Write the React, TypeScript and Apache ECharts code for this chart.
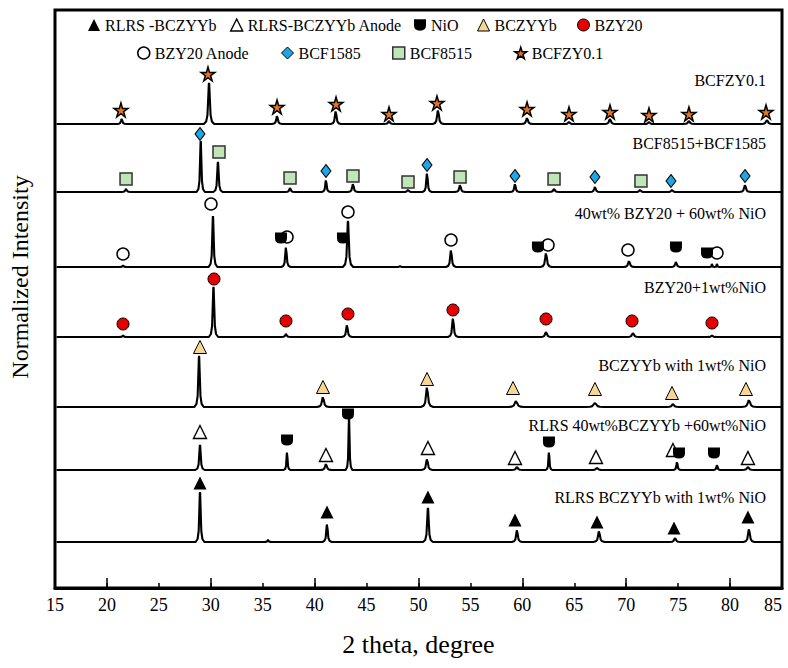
import React, { useEffect, useRef } from "react";
import * as echarts from "echarts";

const FONT = "Liberation Serif, Times New Roman, Times, serif";

// ---- axis ----
const X_MIN = 15;
const X_MAX = 85;
const X_STEP = 5;
const majorTickValues = [20, 30, 40, 50, 60, 70, 80];
const Y_MAX = 578;

// ---- traces (top to bottom) ----
const traceLabels = [
  "BCFZY0.1",
  "BCF8515+BCF1585",
  "40wt% BZY20 + 60wt% NiO",
  "BZY20+1wt%NiO",
  "BCZYYb with 1wt% NiO",
  "RLRS 40wt%BCZYYb +60wt%NiO",
  "RLRS BCZYYb with 1wt% NiO",
];
const baselines = [464, 396, 321, 251, 181, 118, 46];

// peaks: [2theta, height above baseline, half base width]
const peaksBCFZY = [[21.42, 5, 0.45], [29.83, 41, 0.5], [36.38, 8, 0.5], [42.03, 13, 0.5], [47.16, 3, 0.5], [51.88, 14, 0.55], [60.45, 6, 0.55], [64.49, 2, 0.5], [68.44, 5, 0.55], [72.19, 2, 0.5], [76.04, 3, 0.55], [83.55, 4, 0.6]];
const peaksBCF = [[21.84, 3, 0.45], [29.03, 51, 0.4], [30.69, 30, 0.45], [37.63, 4, 0.45], [41.09, 12, 0.42], [43.69, 8, 0.5], [48.99, 2, 0.5], [50.82, 19, 0.45], [54.0, 7, 0.5], [59.29, 8, 0.45], [63.05, 3, 0.5], [66.99, 5, 0.5], [71.33, 2, 0.5], [74.41, 2, 0.5], [81.44, 7, 0.55]];
const peaksBZYNiO = [[21.55, 1.5, 0.4], [30.21, 51, 0.42], [37.24, 20, 0.45], [43.21, 46, 0.5], [48.22, 1, 0.35], [53.13, 17, 0.5], [62.28, 14, 0.55], [70.27, 6, 0.55], [74.79, 5, 0.5], [78.26, 3, 0.23], [78.74, 3, 0.23]];
const peaksBZY = [[21.55, 1.5, 0.4], [30.26, 50, 0.45], [37.24, 3, 0.45], [43.11, 12, 0.5], [53.32, 19, 0.5], [62.28, 5, 0.55], [70.65, 4, 0.6], [78.26, 1.5, 0.5]];
const peaksBCZYYb = [[28.87, 51, 0.45], [40.8, 10, 0.6], [50.82, 20, 0.6], [59.39, 6, 0.75], [66.99, 4, 0.85], [74.5, 3, 0.6], [81.82, 7, 0.7]];
const peaksRLRSAnode = [[28.96, 25, 0.45], [37.34, 18, 0.32], [41.09, 6, 0.55], [43.31, 52, 0.32], [50.82, 11, 0.55], [59.48, 3, 0.55], [62.56, 18, 0.32], [67.19, 2, 0.6], [74.89, 8, 0.38], [78.74, 5, 0.38], [81.72, 3, 0.6]];
const peaksRLRS = [[28.96, 50, 0.42], [35.51, 2, 0.35], [41.19, 18, 0.45], [50.91, 34, 0.48], [59.48, 12, 0.5], [67.38, 11, 0.55], [74.7, 4, 0.55], [81.82, 13, 0.55]];
const tracePeaks = [peaksBCFZY, peaksBCF, peaksBZYNiO, peaksBZY, peaksBCZYYb, peaksRLRSAnode, peaksRLRS];

// ---- phase markers [2theta, y] ----
const markRLRS = [[28.96, 105], [41.19, 76], [50.91, 91], [59.29, 68], [67.19, 66], [74.6, 60], [81.72, 71]];
const markRLRSAnode = [[28.96, 156], [41.09, 133], [50.91, 140], [59.29, 130], [67.09, 131], [74.5, 138], [81.72, 130]];
const markNiO = [[36.76, 350], [42.73, 350], [61.5, 341], [74.79, 341], [77.78, 335], [37.34, 148], [43.21, 174], [62.56, 146], [75.08, 135], [78.45, 135]];
const markBCZYYb = [[28.96, 241], [40.8, 201], [50.82, 209], [59.1, 200], [66.99, 199], [74.41, 195], [81.53, 199]];
const markBZY20 = [[21.55, 264], [30.31, 309], [37.24, 267], [43.21, 274], [53.32, 278], [62.28, 269], [70.56, 267], [78.26, 265]];
const markBZY20Anode = [[21.55, 334], [30.02, 384], [37.34, 351], [43.21, 376], [53.13, 348], [62.47, 343], [70.17, 338], [78.74, 335]];
const markBCF1585 = [[28.96, 454], [41.09, 417], [50.82, 423], [59.29, 412], [66.99, 411], [74.31, 407], [81.44, 412]];
const markBCF8515 = [[21.84, 409], [30.79, 436], [37.63, 410], [43.69, 412], [48.99, 406], [54.0, 411], [63.05, 409], [71.42, 407]];
const markBCFZY = [[21.35, 478], [29.73, 514], [36.38, 481], [42.06, 484], [47.16, 474], [51.78, 485], [60.45, 479], [64.49, 474], [68.44, 476], [72.19, 473], [76.04, 474], [83.46, 476]];

const phaseNames = ["RLRS -BCZYYb", "RLRS-BCZYYb Anode", "NiO", "BCZYYb", "BZY20", "BZY20 Anode", "BCF1585", "BCF8515", "BCFZY0.1"];
const phaseData = [markRLRS, markRLRSAnode, markNiO, markBCZYYb, markBZY20, markBZY20Anode, markBCF1585, markBCF8515, markBCFZY];

// ---- layout / styles ----
const STAR = "path://M50,0 L61,35 L98,35 L68,57 L79,91 L50,70 L21,91 L32,57 L2,35 L39,35 Z";
const SHIELD = "path://M0,0 L20,0 L20,10 Q20,19 10,19 Q0,19 0,10 Z";
const phaseStyles: any[] = [
  { symbol: "triangle", size: 13, fill: "#000000", border: "#000000", bw: 0 },
  { symbol: "triangle", size: 13, fill: "#ffffff", border: "#000000", bw: 1.4 },
  { symbol: SHIELD, size: [12, 11], fill: "#000000", border: "#000000", bw: 0 },
  { symbol: "triangle", size: 13, fill: "#f6d690", border: "#000000", bw: 1 },
  { symbol: "circle", size: 12, fill: "#e60000", border: "#000000", bw: 1 },
  { symbol: "circle", size: 12, fill: "#ffffff", border: "#000000", bw: 1.5 },
  { symbol: "diamond", size: [10, 13], fill: "#1ea7e6", border: "#000000", bw: 1 },
  { symbol: "rect", size: 12, fill: "#bfe5b8", border: "#333333", bw: 1.5 },
  { symbol: STAR, size: 14, fill: "#e8751a", border: "#000000", bw: 1.5 },
];
const legendPos = [[88, 17], [230, 17], [414, 17], [477, 17], [577, 17], [137, 45], [281, 45], [392, 45], [514, 45]];
const traceLabelY = [80, 143, 213, 287, 365, 425, 497];

function buildProfile(base: number, peaks: number[][]) {
  const pts: number[][] = [[X_MIN + 0.15, base]];
  for (const [p, h, w] of peaks) {
    pts.push(
      [p - w, base],
      [p - 0.55 * w, base + 0.06 * h],
      [p - 0.3 * w, base + 0.22 * h],
      [p - 0.13 * w, base + 0.7 * h],
      [p - 0.04 * w, base + 0.97 * h],
      [p, base + h],
      [p + 0.04 * w, base + 0.97 * h],
      [p + 0.13 * w, base + 0.7 * h],
      [p + 0.3 * w, base + 0.22 * h],
      [p + 0.55 * w, base + 0.06 * h],
      [p + w, base]
    );
  }
  pts.push([X_MAX, base]);
  return pts;
}

export default function App() {
  const ref = useRef<HTMLDivElement>(null);
  useEffect(() => {
    const chart = echarts.init(ref.current!, null, { renderer: "svg" });
    const lineSeries = tracePeaks.map((pk, i) => ({
      type: "line",
      name: traceLabels[i],
      data: buildProfile(baselines[i], pk),
      showSymbol: false,
      symbol: "none",
      lineStyle: { color: "#000", width: 2.1 },
      itemStyle: { color: "#000" },
      z: 2,
      silent: true,
    }));
    const scatterSeries = phaseNames.map((n, i) => ({
      type: "scatter",
      name: n,
      data: phaseData[i],
      symbol: phaseStyles[i].symbol,
      symbolSize: phaseStyles[i].size,
      itemStyle: {
        color: phaseStyles[i].fill,
        borderColor: phaseStyles[i].border,
        borderWidth: phaseStyles[i].bw,
        opacity: 1,
      },
      z: i === 2 ? 4 : 3,
    }));
    const option: any = {
      animation: false,
      backgroundColor: "#ffffff",
      textStyle: { fontFamily: FONT, color: "#000" },
      grid: {
        left: 55,
        top: 10,
        right: 6,
        bottom: 80,
        show: true,
        borderColor: "#000",
        borderWidth: 3,
        backgroundColor: "transparent",
        containLabel: false,
        outerBoundsMode: "none",
      },
      legend: phaseNames.map((n, i) => ({
        data: [
          {
            name: n,
            icon: phaseStyles[i].symbol,
            itemStyle: {
              color: phaseStyles[i].fill,
              borderColor: phaseStyles[i].border,
              borderWidth: phaseStyles[i].bw,
            },
            textStyle: { fontFamily: FONT, fontSize: 16, color: "#000" },
          },
        ],
        left: legendPos[i][0],
        top: legendPos[i][1],
        padding: 0,
        itemWidth: 12,
        itemHeight: 12,
        selectedMode: false,
        textStyle: { fontFamily: FONT, fontSize: 16, color: "#000" },
      })),
      xAxis: [
        {
          type: "value",
          min: X_MIN,
          max: X_MAX,
          interval: X_STEP,
          position: "bottom",
          axisLine: { show: true, lineStyle: { color: "#000", width: 3 } },
          axisTick: { show: true, inside: true, length: 5, lineStyle: { color: "#000", width: 1.5 } },
          axisLabel: { fontFamily: FONT, fontSize: 18, color: "#000", margin: 8, alignMaxLabel: "right" },
          splitLine: { show: false },
          name: "2 theta, degree",
          nameLocation: "middle",
          nameGap: 43,
          nameTextStyle: { fontFamily: FONT, fontSize: 26, color: "#000" },
        },
        {
          type: "value",
          min: X_MIN,
          max: X_MAX,
          interval: X_STEP,
          position: "bottom",
          offset: 0,
          axisLine: { show: false },
          axisTick: { show: true, inside: true, length: 10, customValues: majorTickValues, lineStyle: { color: "#000", width: 1.5 } },
          axisLabel: { show: false },
          splitLine: { show: false },
        },
      ],
      yAxis: {
        type: "value",
        min: 0,
        max: Y_MAX,
        show: false,
      },
      graphic: [
        {
          type: "text",
          x: 20,
          y: 277,
          rotation: Math.PI / 2,
          style: {
            text: "Normalized Intensity",
            fontFamily: FONT,
            fontSize: 24,
            fill: "#000",
            align: "center",
            verticalAlign: "middle",
          },
        },
        ...traceLabels.map((t, i) => ({
          type: "text",
          x: 766,
          y: traceLabelY[i],
          style: {
            text: t,
            fontFamily: FONT,
            fontSize: 16,
            fill: "#000",
            align: "right",
            verticalAlign: "middle",
          },
        })),
      ],
      series: [...lineSeries, ...scatterSeries],
    };
    chart.setOption(option);
    return () => chart.dispose();
  }, []);
  return <div ref={ref} style={{ position: "fixed", left: 0, top: 0, width: 788, height: 668 }} />;
}
